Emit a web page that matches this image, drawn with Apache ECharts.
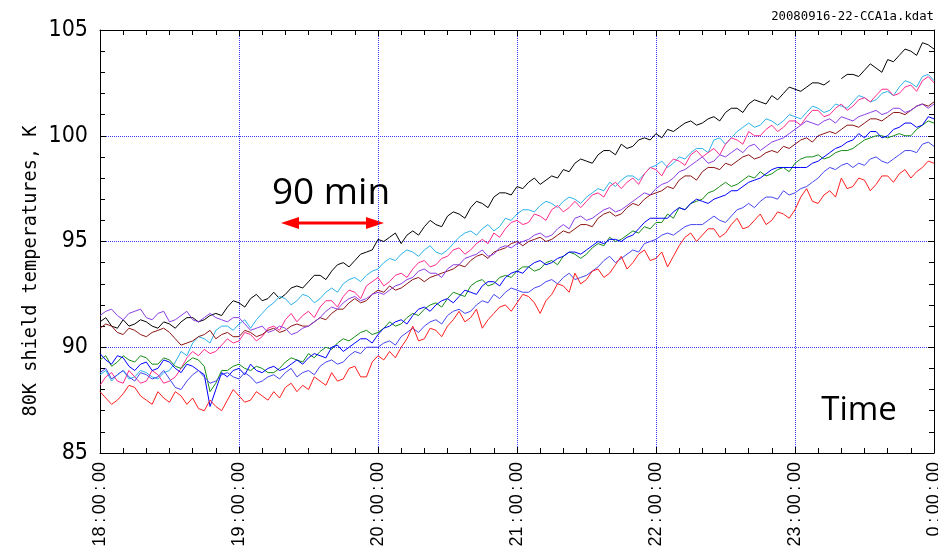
<!DOCTYPE html>
<html>
<head>
<meta charset="utf-8">
<title>80K shield temperatures</title>
<script src="https://cdn.jsdelivr.net/npm/echarts@6/dist/echarts.min.js"></script>
<style>
  html, body { margin: 0; padding: 0; background: #fff; }
  #main { width: 938px; height: 551px; }
</style>
</head>
<body>
<div id="main"></div>
<script>
// one sample every 2.5 minutes from 18:00:00 to 0:00:00 (x = minutes after 18:00)
var stepMin = 2.5;

// hour tick labels
var tickLabels = ['18:00:00', '19:00:00', '20:00:00', '21:00:00', '22:00:00', '23:00:00', '0:00:00'];

// temperatures, K
var tBlack = [91.2, 91.4, 91.0, 90.9, 91.3, 91.0, 91.1, 91.3, 91.2, 91.0,
  90.9, 91.2, 91.1, 90.9, 91.2, 91.4, 91.4, 91.2, 91.3, 91.5,
  91.6, 91.5, 91.9, 92.2, 92.1, 91.9, 92.3, 92.5, 92.2, 92.3,
  92.6, 92.3, 92.5, 92.8, 92.9, 92.8, 93.1, 93.4, 93.4, 93.2,
  93.6, 93.9, 94.0, 93.8, 94.1, 94.4, 94.5, 94.6, 95.1, 95.0,
  95.2, 95.4, 94.9, 95.3, 95.5, 95.3, 95.7, 96.0, 95.8, 95.7,
  96.2, 96.4, 96.3, 96.1, 96.6, 96.9, 96.8, 96.6, 97.1, 97.3,
  97.3, 97.2, 97.6, 97.5, 97.8, 98.0, 97.7, 97.9, 98.1, 98.0,
  98.4, 98.3, 98.7, 98.9, 98.8, 98.7, 99.1, 99.3, 99.3, 99.1,
  99.6, 99.4, 99.5, 99.8, 99.9, 99.8, 100.1, 99.9, 100.3, 100.2,
  100.4, 100.6, 100.7, 100.5, 100.6, 100.8, 100.9, 100.7, 101.1, 101.3,
  101.3, 101.1, 101.5, 101.7, 101.6, 101.5, 101.9, 101.7, 102.0, 102.3,
  102.2, 102.1, 102.3, 102.5, 102.5, 102.4, 102.6, null, 102.7, 102.9,
  102.9, 102.8, 103.1, 103.4, 103.2, 103.0, 103.6, 103.5, 103.8, 104.1,
  104.0, 103.8, 104.4, 104.3, 104.1];

var tCyan = [88.7, 88.9, 88.4, 88.7, 88.9, 88.5, 88.6, 88.9, 88.8, 88.6,
  88.5, 88.8, 88.9, 89.3, 89.8, 89.6, 90.2, 90.5, 90.4, 90.2,
  90.8, 91.0, 91.0, 90.8, 91.1, 91.3, 90.9, 91.3, 91.6, 91.9,
  92.1, 92.4, 92.3, 92.0, 92.2, 92.5, 92.4, 92.1, 92.3, 92.6,
  92.8, 92.6, 93.0, 93.2, 93.3, 93.1, 93.4, 93.6, 93.7, 94.0,
  94.2, 94.1, 94.4, 94.6, 94.5, 94.3, 94.6, 94.8, 94.5, 94.4,
  94.6, 94.9, 95.2, 95.4, 95.5, 95.3, 95.6, 95.8, 95.5, 95.7,
  96.1, 96.0, 96.3, 96.5, 96.5, 96.4, 96.7, 96.9, 96.8, 96.6,
  96.9, 97.1, 97.0, 96.8, 97.1, 97.3, 97.5, 97.4, 97.8, 97.6,
  97.9, 98.1, 98.1, 97.9, 98.2, 98.5, 98.6, 98.8, 98.5, 98.7,
  99.0, 98.9, 99.2, 99.4, 99.4, 99.2, 99.8, 99.9, 99.6, 99.9,
  100.2, 100.4, 100.6, 100.4, 100.5, 100.8, 100.7, 100.5, 100.7, 101.0,
  100.9, 100.8, 101.1, 101.4, 101.3, 101.1, 101.2, 101.5, 101.4, 101.3,
  101.6, 101.9, 101.8, 101.6, 101.7, 102.0, 102.1, 101.9, 102.3, 102.6,
  102.5, 102.3, 102.8, 102.9, 102.6];

var tPink = [88.2, 88.6, 88.8, 88.4, 88.3, 88.9, 88.6, 88.3, 88.4, 88.9,
  88.7, 88.3, 88.4, 88.6, 89.0, 89.5, 89.8, 89.6, 89.9, 89.7,
  89.8, 90.1, 90.4, 90.2, 90.3, 90.7, 90.6, 90.3, 90.5, 90.9,
  91.0, 90.8, 91.3, 91.6, 91.2, 91.5, 91.7, 91.4, 91.9, 92.2,
  92.2, 91.9, 92.4, 92.7, 92.6, 92.3, 92.9, 93.1, 93.3, 92.9,
  93.1, 93.4, 93.5, 93.3, 93.7, 94.0, 94.1, 93.8, 93.9, 94.2,
  94.3, 94.6, 94.7, 94.4, 94.6, 94.9, 95.1, 94.9, 95.4, 95.2,
  95.6, 95.9, 96.0, 95.8, 95.9, 96.3, 96.2, 96.0, 96.5, 96.7,
  96.4, 96.6, 96.9, 96.6, 96.9, 97.2, 97.3, 97.1, 97.6, 97.8,
  97.5, 97.8, 98.0, 97.7, 98.2, 98.5, 98.4, 98.1, 98.6, 98.9,
  98.8, 98.6, 99.1, 99.3, 99.0, 99.2, 99.4, 99.1, 99.6, 99.9,
  99.8, 99.6, 100.2, 100.0, 100.0, 100.3, 100.5, 100.2, 100.4, 100.7,
  100.7, 100.5, 100.9, 101.2, 101.2, 100.9, 101.0, 101.3, 101.5, 101.2,
  101.4, 101.7, 101.8, 101.6, 101.9, 102.2, 102.2, 101.9, 102.0, 102.3,
  102.4, 102.1, 102.6, 102.8, 102.5];

var tBrown = [90.9, 91.1, 91.0, 90.7, 90.6, 90.9, 90.8, 90.6, 90.5, 90.7,
  90.8, 90.9, 90.7, 90.4, 90.1, 90.2, 90.3, 90.5, 90.6, 90.8,
  90.4, 90.6, 90.7, 90.5, 90.5, 90.8, 90.7, 90.5, 90.6, 90.8,
  90.9, 90.7, 90.8, 91.0, 91.1, 91.0, 91.0, 91.2, 91.4, 91.3,
  91.6, 91.8, 91.8, 92.1, 92.3, 92.1, 92.2, 92.5, 92.7, 92.6,
  92.9, 92.7, 92.8, 93.0, 93.2, 93.3, 93.1, 93.3, 93.4, 93.5,
  93.6, 93.7, 93.9, 93.8, 94.1, 94.3, 94.4, 94.2, 94.5, 94.6,
  94.7, 94.9, 95.0, 94.8, 95.0, 95.1, 95.2, 95.0, 95.1, 95.3,
  95.5, 95.4, 95.6, 95.8, 95.8, 95.7, 96.1, 96.3, 96.4, 96.2,
  96.3, 96.6, 96.8, 96.7, 97.0, 97.2, 97.3, 97.4, 97.6, 97.5,
  97.9, 98.1, 98.1, 97.9, 98.3, 98.5, 98.5, 98.4, 98.7, 98.6,
  98.8, 99.0, 99.1, 98.9, 99.0, 99.2, 99.3, 99.2, 99.5, 99.4,
  99.6, 99.8, 99.9, 99.7, 100.0, 100.1, 100.2, 100.1, 100.3, 100.5,
  100.5, 100.4, 100.6, 100.8, 100.8, 100.7, 100.9, 101.1, 101.1, 101.0,
  101.2, 101.4, 101.5, 101.4, 101.6];

var tPurple = [91.5, 91.7, 91.8, 91.5, 91.3, 91.6, 91.7, 91.8, 91.4, 91.3,
  91.6, 91.7, 91.2, 91.3, 91.5, 91.7, 91.3, 91.2, 91.4, 91.6,
  91.4, 91.3, 91.2, 91.4, 91.4, 91.1, 90.8, 90.9, 91.0, 90.7,
  90.8, 91.0, 90.9, 90.6, 90.7, 90.9, 91.0, 91.2, 91.4, 91.7,
  91.9, 91.8, 92.1, 92.3, 92.4, 92.2, 92.3, 92.5, 92.6, 92.5,
  92.7, 92.9, 93.0, 93.2, 93.3, 93.6, 93.7, 93.5, 93.5, 93.3,
  93.7, 93.9, 93.9, 94.2, 94.3, 94.4, 94.6, 94.3, 94.4, 94.7,
  94.8, 94.7, 94.9, 95.0, 95.1, 95.3, 95.4, 95.2, 95.3, 95.6,
  95.8, 95.6, 96.1, 96.2, 96.0, 96.1, 96.3, 96.5, 96.6, 96.4,
  96.5, 96.7, 96.9, 97.1, 97.3, 97.2, 97.5, 97.7, 97.8, 98.0,
  98.3, 98.4, 98.6, 98.8, 99.0, 98.7, 98.8, 99.1, 99.0, 99.2,
  99.4, 99.2, 99.5, 99.6, 99.3, 99.5, 99.7, 99.8, 99.9, 100.1,
  100.3, 100.5, 100.7, 100.6, 100.5, 100.7, 100.8, 100.6, 100.9, 100.8,
  100.7, 100.9, 101.0, 101.1, 101.2, 101.0, 101.1, 101.3, 101.3, 101.1,
  101.2, 101.4, 101.5, 101.3, 101.5];

var tGreen = [89.4, 89.6, 89.1, 89.3, 89.6, 89.4, 89.3, 89.6, 89.5, 89.2,
  89.2, 89.5, 89.4, 89.1, 89.0, 89.3, 89.5, 89.4, 89.1, 87.9,
  88.3, 88.9, 88.9, 89.1, 89.2, 89.0, 88.9, 89.1, 89.0, 88.8,
  88.8, 89.0, 89.3, 89.5, 89.4, 89.3, 89.7, 89.5, 89.8, 90.0,
  89.9, 90.2, 90.4, 90.3, 90.5, 90.7, 90.8, 90.6, 90.7, 90.9,
  91.2, 91.0, 91.1, 91.4, 91.6, 91.5, 91.8, 92.0, 92.1, 91.9,
  92.3, 92.6, 92.5, 92.4, 92.9, 93.1, 93.2, 92.9, 93.0, 93.3,
  93.4, 93.3, 93.6, 93.8, 93.8, 93.6, 93.7, 94.0, 94.1, 93.9,
  94.3, 94.5, 94.4, 94.2, 94.4, 94.7, 94.9, 94.8, 95.2, 95.0,
  95.1, 95.3, 95.5, 95.4, 95.7, 95.6, 95.9, 95.9, 96.3, 96.1,
  96.6, 96.5, 96.8, 96.9, 97.0, 97.3, 97.4, 97.6, 97.8, 97.6,
  97.7, 97.9, 98.1, 98.0, 98.3, 98.1, 98.2, 98.4, 98.5, 98.3,
  98.7, 98.9, 99.0, 99.0, 99.1, 98.9, 99.0, 99.2, 99.3, 99.3,
  99.4, 99.6, 99.8, 99.9, 100.0, 100.0, 99.9, 100.0, 100.1, 100.0,
  100.0, 100.3, 100.5, 100.7, 100.6];

var tBlue = [89.7, 89.4, 89.2, 89.6, 89.5, 89.1, 88.9, 89.2, 89.3, 88.9,
  89.0, 89.4, 89.3, 89.0, 88.8, 89.2, 89.1, 88.9, 88.7, 87.2,
  88.0, 88.8, 88.6, 88.9, 89.0, 88.7, 89.2, 88.9, 88.8, 89.0,
  89.1, 88.9, 89.0, 89.2, 89.4, 89.2, 89.5, 89.7, 89.6, 89.5,
  90.0, 90.1, 89.8, 90.0, 90.2, 90.4, 90.4, 90.2, 90.6, 90.9,
  91.0, 91.2, 91.3, 91.1, 91.5, 91.8, 91.9, 91.7, 92.0, 92.2,
  92.3, 92.1, 92.4, 92.7, 92.6, 92.5, 92.9, 93.1, 93.1, 92.9,
  93.3, 93.5, 93.6, 93.5, 93.8, 94.0, 94.1, 93.9, 94.0, 94.2,
  94.3, 94.5, 94.5, 94.4, 94.6, 94.8, 95.0, 94.9, 95.1, 95.1,
  95.0, 95.2, 95.3, 95.6, 95.9, 96.1, 96.1, 96.1, 96.1, 96.4,
  96.6, 96.5, 96.8, 97.0, 96.9, 96.8, 97.0, 97.1, 97.2, 97.4,
  97.4, 97.6, 97.8, 97.9, 98.0, 98.2, 98.4, 98.5, 98.5, 98.5,
  98.5, 98.5, 98.5, 98.7, 98.8, 99.0, 99.2, 99.4, 99.5, 99.7,
  99.8, 100.1, 99.9, 100.2, 100.2, 99.9, 100.0, 100.3, 100.4, 100.6,
  100.6, 100.4, 100.5, 100.9, 100.8];

var tSlate = [88.8, 89.0, 88.5, 88.7, 88.9, 88.6, 88.4, 88.8, 88.7, 88.5,
  88.6, 88.9, 88.5, 88.1, 88.0, 88.4, 88.7, 88.9, 88.6, 88.3,
  88.4, 88.7, 88.8, 88.6, 88.5, 88.8, 88.6, 88.3, 88.4, 88.6,
  88.7, 88.5, 88.8, 89.0, 88.6, 88.8, 88.9, 88.7, 89.1, 89.3,
  89.4, 89.2, 89.3, 89.6, 89.8, 89.7, 90.0, 90.0, 90.0, 90.2,
  90.3, 90.1, 90.5, 90.7, 90.9, 90.7, 91.0, 91.2, 91.3, 91.1,
  91.5, 91.7, 91.8, 91.6, 91.7, 92.0, 92.2, 92.1, 92.5, 92.3,
  92.6, 92.8, 92.7, 92.6, 92.6, 92.8, 92.9, 93.1, 93.2, 93.0,
  93.3, 93.5, 93.2, 93.3, 93.4, 93.6, 93.8, 94.1, 94.3, 94.0,
  94.2, 94.4, 94.6, 94.5, 94.9, 95.0, 95.1, 95.3, 95.4, 95.3,
  95.5, 95.7, 95.8, 95.8, 95.8, 96.0, 96.2, 96.0, 95.9, 96.2,
  96.5, 96.6, 96.8, 96.6, 96.9, 97.1, 97.1, 97.0, 97.4, 97.2,
  97.3, 97.5, 97.6, 97.8, 98.0, 98.3, 98.5, 98.4, 98.6, 98.7,
  98.5, 98.7, 98.6, 98.9, 99.0, 98.8, 98.7, 98.9, 99.1, 99.3,
  99.3, 99.2, 99.6, 99.7, 99.5];

var tRed = [87.9, 87.6, 87.3, 87.5, 87.8, 88.2, 88.1, 87.7, 87.5, 87.3,
  87.9, 87.6, 87.4, 87.9, 87.7, 87.3, 87.6, 87.1, 87.0, 87.5,
  87.2, 87.0, 87.5, 88.0, 87.7, 87.4, 87.5, 87.9, 87.7, 87.5,
  87.9, 87.6, 88.1, 88.3, 87.9, 88.2, 88.0, 88.6, 88.4, 88.2,
  88.8, 88.4, 88.5, 89.0, 89.1, 88.6, 88.6, 89.3, 89.6, 89.4,
  89.8, 89.5, 90.0, 90.4, 91.0, 90.3, 90.4, 90.9, 90.8, 90.5,
  91.0, 91.3, 91.7, 91.2, 91.4, 91.8, 90.9, 91.3, 91.6, 91.9,
  92.0, 91.7, 92.1, 92.5, 92.4, 92.1, 91.6, 92.2, 92.5, 93.0,
  92.9, 92.6, 93.5, 93.0, 93.2, 93.6, 93.7, 93.3, 93.5, 93.9,
  94.3, 93.7, 94.0, 94.4, 94.6, 94.1, 94.2, 94.5, 93.8, 94.3,
  94.8, 95.2, 95.4, 95.0, 95.3, 95.6, 95.6, 95.2, 95.4, 95.8,
  96.1, 95.6, 95.7, 96.0, 96.3, 95.8, 96.0, 96.4, 96.3, 96.1,
  96.5, 97.1, 97.5, 96.9, 96.8, 97.2, 97.4, 97.1, 98.0, 97.5,
  97.6, 98.0, 97.9, 97.4, 97.7, 98.1, 98.1, 97.8, 98.2, 98.4,
  98.0, 98.3, 98.5, 98.8, 98.7];

var lines = [
  { name: 'ch1', values: tBlack,  color: '#000000' },
  { name: 'ch2', values: tCyan,   color: '#2ab2ea' },
  { name: 'ch3', values: tPink,   color: '#ff2a8c' },
  { name: 'ch4', values: tBrown,  color: '#8b1414' },
  { name: 'ch5', values: tPurple, color: '#8a3ee6' },
  { name: 'ch6', values: tGreen,  color: '#168c16' },
  { name: 'ch7', values: tBlue,   color: '#0000ff' },
  { name: 'ch8', values: tSlate,  color: '#4646f0' },
  { name: 'ch9', values: tRed,    color: '#ff1e1e' }
];

function chart(){
	var myChart = echarts.init(document.getElementById('main'), null, { renderer: 'canvas' });

	var gridLine = { show: true, lineStyle: { color: '#3a3aff', type: 'dotted', width: 1 } };
	var frame = { show: true, onZero: false, lineStyle: { color: '#000', width: 1 } };
	var tick = { show: true, inside: true, length: 6, lineStyle: { color: '#000' } };

	var series = lines.map(function (s) {
		return {
			name: s.name,
			type: 'line',
			showSymbol: false,
			connectNulls: false,
			lineStyle: { width: 1, color: s.color },
			itemStyle: { color: s.color },
			emphasis: { disabled: true },
			data: s.values.map(function (v, i) { return [i * stepMin, v]; })
		};
	});

	var option = {
		animation: false,
		backgroundColor: '#fff',
		grid: {
			left: 100, right: 4, top: 30, bottom: 98,
			outerBoundsMode: 'none',
			containLabel: false
		},
		xAxis: [
			{
				type: 'value', position: 'bottom', min: 0, max: 360, interval: 60,
				axisLine: frame,
				axisTick: tick,
				minorTick: { show: true, splitNumber: 6, length: 5, lineStyle: { color: '#000' } },
				splitLine: gridLine,
				axisLabel: {
					rotate: 90, margin: 9, color: '#000', fontSize: 18,
					fontFamily: "'Liberation Sans', Arial, sans-serif",
					formatter: function (v) { return tickLabels[Math.round(v / 60)].replace(/:/g, '\u2009:\u2009'); }
				}
			},
			{
				type: 'value', position: 'top', min: 0, max: 360, interval: 60,
				axisLine: frame,
				axisTick: tick,
				minorTick: { show: true, splitNumber: 6, length: 5, lineStyle: { color: '#000' } },
				splitLine: { show: false },
				axisLabel: { show: false }
			}
		],
		yAxis: [
			{
				type: 'value', position: 'left', min: 85, max: 105, interval: 5,
				axisLine: frame,
				axisTick: tick,
				minorTick: { show: true, splitNumber: 5, length: 5, lineStyle: { color: '#000' } },
				splitLine: gridLine,
				axisLabel: {
					margin: 12, color: '#000', fontSize: 23,
					fontFamily: "'Liberation Sans Narrow', 'DejaVu Sans Condensed', 'Liberation Sans', sans-serif"
				}
			},
			{
				type: 'value', position: 'right', min: 85, max: 105, interval: 5,
				axisLine: frame,
				axisTick: tick,
				minorTick: { show: true, splitNumber: 5, length: 5, lineStyle: { color: '#000' } },
				splitLine: { show: false },
				axisLabel: { show: false }
			}
		],
		graphic: [
			{
				type: 'text', right: 4, top: 11,
				style: { text: '20080916-22-CCA1a.kdat', font: "12.3px 'DejaVu Sans Mono', monospace", fill: '#000' }
			},
			{
				type: 'text', x: 31, y: 271, rotation: Math.PI / 2,
				style: {
					text: '80K shield temperatures, K', font: "18.6px 'DejaVu Sans Mono', monospace",
					fill: '#000', textAlign: 'center', textVerticalAlign: 'middle'
				}
			},
			{
				type: 'text', x: 331, y: 193,
				style: { text: '90 min', font: "37px 'Open Sans', sans-serif", fill: '#000', textAlign: 'center', textVerticalAlign: 'middle' }
			},
			{
				type: 'line', shape: { x1: 292, y1: 223, x2: 373, y2: 223 },
				style: { stroke: '#ff0000', lineWidth: 3 }
			},
			{
				type: 'polygon', shape: { points: [[281, 223], [299, 217], [299, 229]] },
				style: { fill: '#ff0000' }
			},
			{
				type: 'polygon', shape: { points: [[384, 223], [366, 217], [366, 229]] },
				style: { fill: '#ff0000' }
			},
			{
				type: 'text', x: 859, y: 411,
				style: { text: 'Time', font: "33px 'Open Sans', sans-serif", fill: '#000', textAlign: 'center', textVerticalAlign: 'middle' }
			}
		],
		series: series
	};

	myChart.setOption(option);
}

chart();
</script>
</body>
</html>
